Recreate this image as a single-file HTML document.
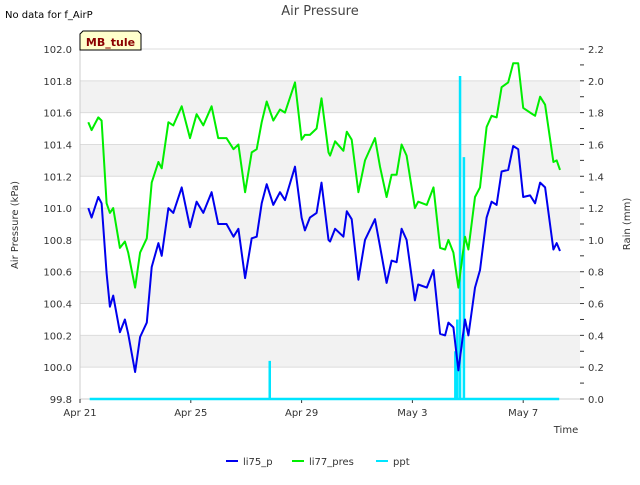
<!DOCTYPE html>
<html><head><meta charset="utf-8"><style>
body{margin:0;background:#fff;font-family:"Liberation Sans","DejaVu Sans",sans-serif}
svg text{font-family:"DejaVu Sans","Liberation Sans",sans-serif}
</style></head><body>
<svg id="c" width="640" height="480" xmlns="http://www.w3.org/2000/svg">
<text x="5" y="18" font-size="10" fill="#000">No data for f_AirP</text>
<text x="320" y="15" font-size="13" fill="#444" text-anchor="middle">Air Pressure</text>
<text x="566" y="433" font-size="10" fill="#333" text-anchor="middle">Time</text>
<text transform="translate(18,225) rotate(-90)" font-size="10" fill="#333" text-anchor="middle">Air Pressure (kPa)</text>
<text transform="translate(630,224) rotate(-90)" font-size="10" fill="#333" text-anchor="middle">Rain (mm)</text>
</svg>
<script>
const bDays=[.30,.42,.66,.78,.96,1.08,1.2,1.44,1.62,1.74,1.99,2.17,2.41,2.59,2.83,2.95,3.19,3.37,3.67,3.97,4.21,4.45,4.75,4.99,5.29,5.54,5.72,5.96,6.2,6.38,6.56,6.74,6.98,7.22,7.4,7.76,8.0,8.12,8.3,8.54,8.72,8.97,9.03,9.21,9.51,9.63,9.81,10.05,10.29,10.65,10.83,11.07,11.25,11.43,11.61,11.79,12.09,12.21,12.52,12.76,13.0,13.18,13.3,13.48,13.66,13.9,14.02,14.26,14.44,14.68,14.86,15.04,15.22,15.46,15.64,15.82,16.0,16.25,16.43,16.61,16.79,17.09,17.21,17.33];
const li75=[101.0,100.94,101.07,101.03,100.59,100.38,100.45,100.22,100.3,100.21,99.97,100.19,100.28,100.63,100.78,100.7,101.0,100.97,101.13,100.88,101.04,100.97,101.1,100.9,100.9,100.82,100.87,100.56,100.81,100.82,101.03,101.15,101.02,101.1,101.05,101.26,100.94,100.86,100.94,100.97,101.16,100.8,100.79,100.87,100.82,100.98,100.93,100.55,100.8,100.93,100.76,100.53,100.67,100.66,100.87,100.8,100.42,100.52,100.5,100.61,100.21,100.2,100.28,100.25,99.98,100.3,100.2,100.5,100.61,100.94,101.04,101.02,101.23,101.24,101.39,101.37,101.07,101.08,101.03,101.16,101.13,100.74,100.78,100.73];
const li77=[101.54,101.49,101.57,101.55,101.03,100.97,101.0,100.75,100.79,100.72,100.5,100.72,100.81,101.16,101.29,101.25,101.54,101.52,101.64,101.44,101.59,101.52,101.64,101.44,101.44,101.37,101.4,101.1,101.35,101.37,101.54,101.67,101.55,101.62,101.6,101.79,101.43,101.46,101.46,101.5,101.69,101.35,101.33,101.42,101.36,101.48,101.43,101.1,101.3,101.44,101.26,101.07,101.21,101.21,101.4,101.33,101.0,101.04,101.02,101.13,100.75,100.74,100.8,100.72,100.5,100.82,100.74,101.07,101.13,101.51,101.58,101.57,101.76,101.79,101.91,101.91,101.63,101.6,101.58,101.7,101.65,101.29,101.3,101.24];
const pptDays=[0.35,6.85,13.55,13.62,13.72,13.86,17.3];
const pptVals=[0,0.24,0.3,0.5,2.03,1.52,0];
const xTicks=["Apr 21","Apr 25","Apr 29","May 3","May 7"];
const xTickDays=[0,4,8,12,16];
const yTicks=["99.8","100.0","100.2","100.4","100.6","100.8","101.0","101.2","101.4","101.6","101.8","102.0"];
const y2Ticks=["0.0","0.2","0.4","0.6","0.8","1.0","1.2","1.4","1.6","1.8","2.0","2.2"];

const L=80,R=580,T=49,B=399;
const X=d=>L+d*27.7;
const Y=v=>B-(v-99.8)/2.2*(B-T);
const Y2=v=>B-v/2.2*(B-T);
const svg=document.getElementById('c');
const NS='http://www.w3.org/2000/svg';
function mk(tag,attrs,parent){const e=document.createElementNS(NS,tag);for(const k in attrs)e.setAttribute(k,attrs[k]);(parent||svg).appendChild(e);return e;}
for(let i=0;i<yTicks.length-1;i++){
  const v=parseFloat(yTicks[i]);
  if(i%2===1){const r=mk('rect',{x:L,y:Y(v+0.2),width:R-L,height:Y(v)-Y(v+0.2),fill:'#f2f2f2'});
  
  }
}
yTicks.forEach((t,i)=>{const v=parseFloat(t);
  const g=mk('line',{x1:L,x2:R,y1:Y(v),y2:Y(v),stroke:'#dcdcdc','stroke-width':1});
  
  
  const tx=mk('text',{x:L-8,y:Y(v)+4,'font-size':10,fill:'#333','text-anchor':'end'});tx.textContent=t;
  
  
});
y2Ticks.forEach((t,i)=>{const v=parseFloat(t);
  const tk=mk('line',{x1:R,x2:R+4,y1:Y2(v),y2:Y2(v),stroke:'#333'});
  
  
  if(i<y2Ticks.length-1){
    const m=mk('line',{x1:R,x2:R+4,y1:Y2(v+0.1),y2:Y2(v+0.1),stroke:'#333'});
    
    
  }
  const tx=mk('text',{x:R+8,y:Y2(v)+4,'font-size':10,fill:'#333'});tx.textContent=t;
  
  
});
mk('line',{x1:L,x2:L,y1:T,y2:B,stroke:'#ccc'});
mk('line',{x1:L,x2:R,y1:B,y2:B,stroke:'#ccc'});
xTicks.forEach((t,i)=>{const x=X(xTickDays[i]);
  const tk=mk('line',{x1:x,x2:x,y1:B,y2:B+4,stroke:'#333'});
  
  
  const tx=mk('text',{x:x,y:B+17,'font-size':10,fill:'#333','text-anchor':'middle'});tx.textContent=t;
  
  
});
let pd=`M${X(pptDays[0])},${Y2(0)}`;
for(let i=1;i<pptDays.length-1;i++){const x=X(pptDays[i]);pd+=` L${x},${Y2(0)} L${x},${Y2(pptVals[i])} L${x},${Y2(0)}`;}
pd+=` L${X(pptDays[pptDays.length-1])},${Y2(0)}`;
const pp=mk('path',{d:pd,fill:'none',stroke:'#00e5ff','stroke-width':2.5});


function line(vals,col,name){
  const d=vals.map((v,i)=>(i?'L':'M')+X(bDays[i]).toFixed(1)+','+Y(v).toFixed(1)).join(' ');
  const p=mk('path',{d:d,fill:'none',stroke:col,'stroke-width':2,'stroke-linejoin':'round'});
  
  
}
line(li77,'#00ee00','li77-pres-series');
line(li75,'#0000ee','li75-p-series');
const bx=mk('path',{d:'M80,50 L80,34 L83,31 L138,31 L141,34 L141,50 Z',fill:'#ffffcc',stroke:'#000'});


const bt=mk('text',{x:110.5,y:46,'font-size':11,'font-weight':'bold',fill:'#8b0000','text-anchor':'middle'});bt.textContent='MB_tule';


const leg=[["li75_p","#0000ee",226],["li77_pres","#00ee00",292],["ppt","#00e5ff",376]];
leg.forEach(l=>{
  const g=mk('g',{});
  
  
  mk('line',{x1:l[2],x2:l[2]+12,y1:461,y2:461,stroke:l[1],'stroke-width':2},g);
  const t=mk('text',{x:l[2]+17,y:465,'font-size':10,fill:'#333'},g);t.textContent=l[0];
});
</script>
</body></html>
